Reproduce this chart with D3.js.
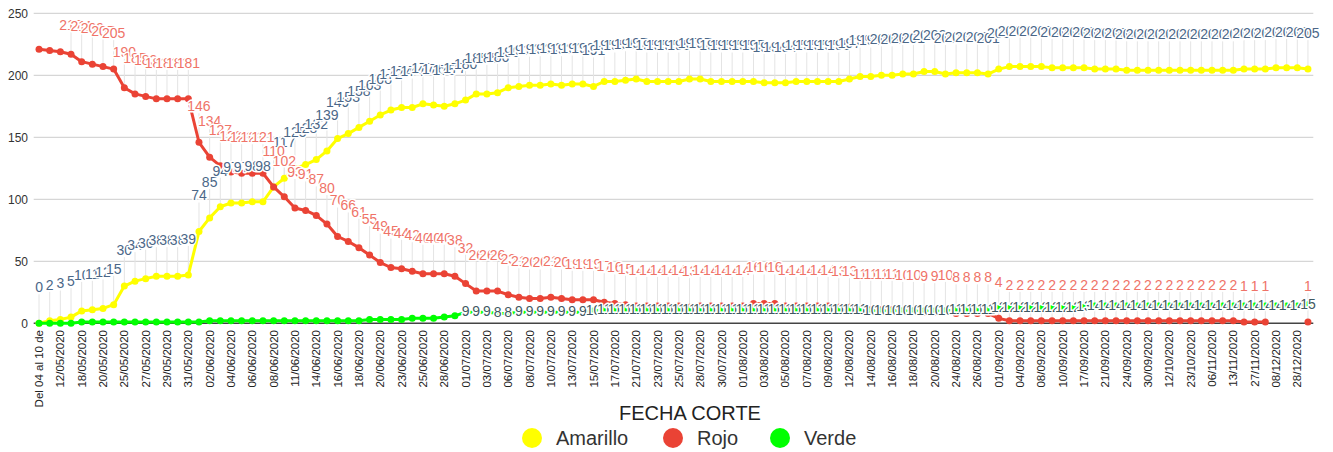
<!DOCTYPE html>
<html>
<head>
<meta charset="utf-8">
<script src="https://cdn.jsdelivr.net/npm/d3@7"></script>
<style>
  html, body { margin: 0; padding: 0; background: #fff; }
  svg { display: block; font-family: "Liberation Sans", Arial, sans-serif; }
</style>
</head>
<body>
<svg id="chart" width="1333" height="452"></svg>
<script>
// ---- data ----
const tickLabels = ["Del 04 al 10 de", "12/05/2020", "18/05/2020", "20/05/2020", "25/05/2020", "27/05/2020", "29/05/2020", "31/05/2020", "02/06/2020", "04/06/2020", "06/06/2020", "08/06/2020", "11/06/2020", "14/06/2020", "16/06/2020", "18/06/2020", "20/06/2020", "23/06/2020", "25/06/2020", "28/06/2020", "01/07/2020", "03/07/2020", "06/07/2020", "08/07/2020", "10/07/2020", "13/07/2020", "15/07/2020", "17/07/2020", "21/07/2020", "23/07/2020", "25/07/2020", "28/07/2020", "30/07/2020", "01/08/2020", "03/08/2020", "05/08/2020", "07/08/2020", "09/08/2020", "12/08/2020", "14/08/2020", "16/08/2020", "18/08/2020", "20/08/2020", "24/08/2020", "26/08/2020", "01/09/2020", "04/09/2020", "08/09/2020", "10/09/2020", "17/09/2020", "21/09/2020", "24/09/2020", "30/09/2020", "12/10/2020", "23/10/2020", "06/11/2020", "13/11/2020", "27/11/2020", "08/12/2020", "28/12/2020"];

const amarillo = [
  0,2,3,5,10,11,12,15,30,34,
  36,38,38,38,39,74,85,94,97,97,
  98,98,110,117,125,128,132,139,149,153,
  158,163,168,172,174,174,177,176,175,177,
  180,185,185,186,190,191,192,192,193,192,
  193,193,191,195,195,196,197,195,195,195,
  195,197,197,195,195,195,195,195,194,194,
  194,195,195,195,195,195,197,199,199,200,
  200,201,201,203,203,201,202,202,202,201,
  205,207,207,207,207,206,206,206,206,205,
  205,205,204,204,204,204,204,204,204,204,
  204,204,204,205,205,205,206,206,206,205
];
const rojo = [
  221,220,219,217,211,209,207,205,190,185,
  183,181,181,181,181,146,134,127,122,121,
  121,121,110,102,93,91,87,80,70,66,
  61,55,49,45,44,42,40,40,40,38,
  32,26,26,26,23,21,20,20,21,20,
  19,19,19,17,16,15,14,14,14,14,
  14,13,14,14,14,14,14,16,16,16,
  14,14,14,14,14,13,13,11,11,11,
  11,10,10,9,9,10,8,8,8,8,
  4,2,2,2,2,2,2,2,2,2,
  2,2,2,2,2,2,2,2,2,2,
  2,2,2,1,1,1,null,null,null,1
];
const verde = [
  0,0,0,0,1,1,1,1,1,1,
  1,1,1,1,1,1,2,2,2,2,
  2,2,2,2,2,2,2,2,2,2,
  2,3,3,3,3,4,4,4,5,6,
  9,9,9,8,8,9,9,9,9,9,
  9,9,10,11,11,11,11,11,11,11,
  11,11,11,11,11,11,11,11,11,11,
  11,11,11,11,11,11,11,11,10,10,
  10,10,10,10,10,10,11,11,11,11,
  12,12,12,12,12,12,12,12,13,14,
  14,14,14,14,14,14,14,14,14,14,
  14,14,14,14,14,14,14,14,14,15
];
const yTicks = [0, 50, 100, 150, 200, 250];
const seriesNames = ["Amarillo", "Rojo", "Verde"];
const seriesColors = ["#ffff00", "#ea4335", "#00ff00"];
const labelColors = ["#4b6788", "#ef7368", "#3f5862"];
const verdeLabelStart = 40;
const xTitle = "FECHA CORTE";

// ---- chart ----
const svg = d3.select("#chart");
const n = amarillo.length;
const x = d3.scalePoint().domain(d3.range(n)).range([33.7, 1313.3]).padding(0.5);
const y = d3.scaleLinear().domain([0, 250]).range([323.3, 13.3]);

// gridlines
svg.append("g").selectAll("line").data(yTicks.filter(t => t !== 0)).join("line")
  .attr("x1", 33.7).attr("x2", 1313.3)
  .attr("y1", d => y(d)).attr("y2", d => y(d))
  .attr("stroke", "#cccccc").attr("stroke-width", 1);

// y labels
svg.append("g").selectAll("text").data(yTicks).join("text")
  .attr("x", 28).attr("y", d => y(d)).attr("dy", "0.35em")
  .attr("text-anchor", "end").attr("font-size", 12).attr("fill", "#333")
  .text(d => d);

// baseline
svg.append("line").attr("x1", 33.7).attr("x2", 1313.3)
  .attr("y1", y(0)).attr("y2", y(0)).attr("stroke", "#444").attr("stroke-width", 1.5);

// x labels
svg.append("g").selectAll("text").data(tickLabels).join("text")
  .attr("transform", (d, k) => `translate(${x(k * 2)},330) rotate(-90)`)
  .attr("dy", "0.35em").attr("text-anchor", "end")
  .attr("font-size", 11.5).attr("fill", "#222")
  .text(d => d);

const allSeries = [amarillo, rojo, verde];
const labelOffset = [36, 36, 1];
const minLabelY = 17, clampLabelY = 25;

function labelPoints(vals, s) {
  return vals.map((v, i) => ({v, i}))
    .filter(d => d.v != null && (s !== 2 || d.i >= verdeLabelStart))
    .map(d => {
      const raw = y(d.v) - labelOffset[s];
      return Object.assign(d, { ly: s === 2 ? raw : Math.max(clampLabelY, raw), hidden: raw < minLabelY });
    })
    .filter(d => !d.hidden);
}

// stems
allSeries.forEach((vals, s) => {
  if (s === 2) return;
  svg.append("g").selectAll("line").data(labelPoints(vals, s)).join("line")
    .attr("x1", d => x(d.i)).attr("x2", d => x(d.i))
    .attr("y1", d => d.ly + 7)
    .attr("y2", d => y(d.v) - 3)
    .attr("stroke", "#e4e4e4").attr("stroke-width", 1);
});

// lines + points
allSeries.forEach((vals, s) => {
  const line = d3.line().defined(d => d != null).x((d, i) => x(i)).y(d => y(d));
  svg.append("path").datum(vals).attr("d", line)
    .attr("fill", "none").attr("stroke", seriesColors[s]).attr("stroke-width", 3)
    .attr("stroke-linejoin", "round");
  svg.append("g").selectAll("circle").data(vals.map((v, i) => ({v, i})).filter(d => d.v != null)).join("circle")
    .attr("cx", d => x(d.i)).attr("cy", d => y(d.v)).attr("r", 3.5)
    .attr("fill", seriesColors[s]);
});

// labels
allSeries.forEach((vals, s) => {
  svg.append("g").selectAll("text").data(labelPoints(vals, s)).join("text")
    .attr("x", d => x(d.i))
    .attr("y", d => d.ly)
    .attr("dy", "0.35em").attr("text-anchor", "middle")
    .attr("font-size", 14).attr("fill", labelColors[s])
    .attr("stroke", "#fff").attr("stroke-width", 3).attr("stroke-linejoin", "round")
    .attr("paint-order", "stroke")
    .text(d => d.v);
});

// axis title
svg.append("text").attr("x", 690).attr("y", 420).attr("text-anchor", "middle")
  .attr("font-size", 20).attr("fill", "#222").text(xTitle);

// legend
const legendX = [532, 673, 780];
seriesNames.forEach((name, s) => {
  svg.append("circle").attr("cx", legendX[s]).attr("cy", 438).attr("r", 10).attr("fill", seriesColors[s]);
  svg.append("text").attr("x", legendX[s] + 24).attr("y", 438).attr("dy", "0.35em")
    .attr("font-size", 20).attr("fill", "#333").text(name);
});
</script>
</body>
</html>
